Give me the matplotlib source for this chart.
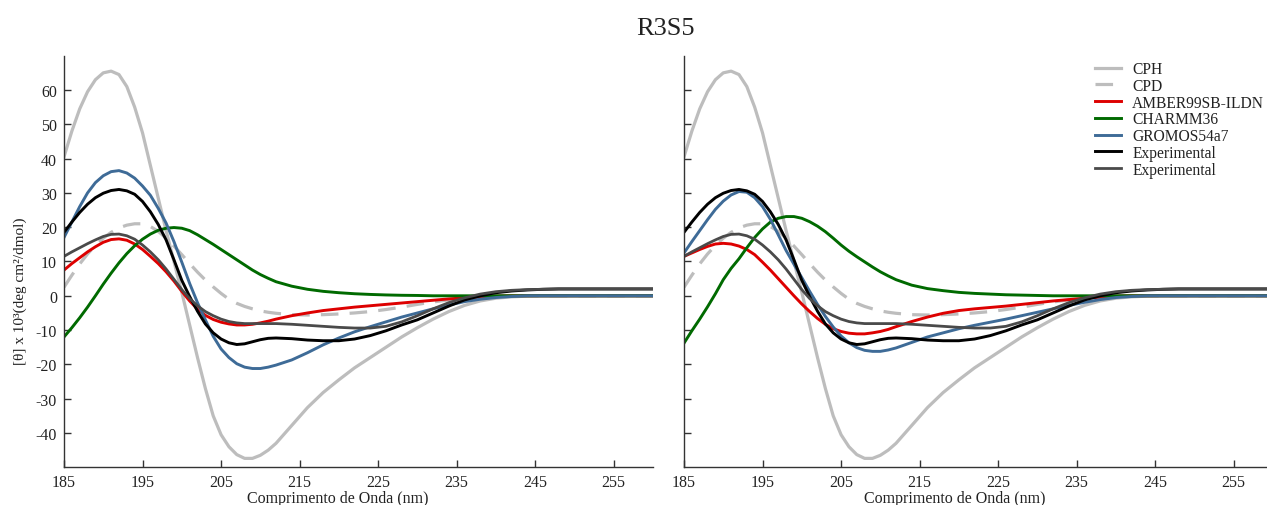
import numpy as np
import matplotlib
matplotlib.use("Agg")
import matplotlib.pyplot as plt

plt.rcParams['font.family'] = ['Liberation Serif', 'DejaVu Serif']
plt.rcParams['axes.unicode_minus'] = False

# Wavelength grid (nm)
wavelength = list(range(185, 213)) + list(range(214, 251, 2)) + [255, 260]

# Reference curves (same in both panels)
cph = [40.5, 48, 54.5, 59.5, 63, 65, 65.5, 64.5, 61, 55, 47.5, 38, 28.5, 19, 10, 1, -8.5, -18, -27, -35,
       -40.5, -44, -46.3, -47.4, -47.4, -46.5, -45, -43,
       -37.8, -32.6, -28.2, -24.5, -21, -18, -15, -12, -9.3, -6.8, -4.6, -2.8, -1.5, -0.7, -0.3, -0.1, 0, 0, 0,
       0, 0]
cpd = [2.5, 6, 9.3, 12.2, 14.7, 16.8, 18.5, 19.8, 20.6, 21, 21, 20.2, 18.8, 16.8, 14.5, 12, 9.4, 6.9, 4.6, 2.6,
       0.7, -1, -2.2, -3.1, -3.8, -4.4, -4.8, -5.1,
       -5.5, -5.6, -5.5, -5.3, -5.0, -4.6, -4.0, -3.3, -2.5, -1.8, -1.2, -0.7, -0.3, -0.1, 0, 0, 0, 0, 0,
       0, 0]
exp1 = [18.5, 21.5, 24.3, 26.7, 28.6, 29.9, 30.7, 31, 30.6, 29.6, 27.5, 24.5, 20.8, 16.3, 10.5, 4.5, -0.2, -4.5,
        -8.2, -10.8, -12.6, -13.7, -14.2, -14, -13.4, -12.8, -12.4, -12.3,
        -12.5, -12.9, -13.1, -13.1, -12.6, -11.6, -10.2, -8.5, -7, -5, -3, -1.2, 0, 0.9, 1.4, 1.7, 1.9, 2, 2,
        2, 2]
exp2 = [11.5, 12.8, 14, 15.2, 16.3, 17.3, 17.9, 18, 17.5, 16.5, 14.8, 12.8, 10.5, 7.8, 4.8, 1.8, -0.8, -2.9,
        -4.6, -5.8, -6.8, -7.5, -7.9, -8.1, -8.1, -8.1, -8.1, -8.1,
        -8.3, -8.6, -8.9, -9.2, -9.4, -9.4, -8.9, -7.6, -5.8, -3.8, -2, -0.6, 0.5, 1.2, 1.6, 1.8, 1.9, 2, 2,
        2, 2]

# Left panel simulations
amber_l = [7.5, 9.4, 11.1, 12.8, 14.3, 15.6, 16.4, 16.6, 16.2, 15.1, 13.5, 11.5, 9.4, 7, 4.3, 1.3, -1.5, -3.9,
           -5.7, -6.9, -7.7, -8.2, -8.5, -8.5, -8.3, -7.9, -7.4, -6.8,
           -5.8, -5.0, -4.3, -3.8, -3.3, -2.9, -2.5, -2.1, -1.7, -1.3, -0.9, -0.6, -0.3, -0.1, 0, 0, 0, 0, 0,
           0, 0]
charmm_l = [-12, -9.3, -6.4, -3.3, 0, 3.4, 6.6, 9.6, 12.3, 14.6, 16.5, 18, 19.1, 19.7, 19.9, 19.7, 19.0, 17.8,
            16.4, 15.0, 13.5, 12.0, 10.5, 9.0, 7.5, 6.2, 5.1, 4.1,
            2.8, 1.9, 1.3, 0.9, 0.6, 0.4, 0.25, 0.15, 0.1, 0, 0, 0, 0, 0, 0, 0, 0, 0, 0,
            0, 0]
gromos_l = [17, 21.5, 26, 30, 33, 35, 36.2, 36.5, 35.8, 34.3, 32, 29.3, 25.5, 21.2, 15.8, 9.8, 3.6, -2, -7,
            -11.8, -15.5, -18, -19.8, -20.8, -21.2, -21.2, -20.8, -20.2,
            -18.7, -16.6, -14.3, -12.3, -10.5, -9, -7.6, -6.2, -5, -3.8, -2.7, -1.7, -1.0, -0.5, -0.2, 0, 0, 0, 0,
            0, 0]

# Right panel simulations
amber_r = [11.5, 12.5, 13.5, 14.4, 15.1, 15.3, 15.1, 14.5, 13.5, 12, 9.8, 7.5, 5, 2.5, 0, -2.4, -4.6, -6.6,
           -8.3, -9.6, -10.4, -10.9, -11.1, -11.1, -10.8, -10.4, -9.8, -9.0,
           -7.5, -6.2, -5.1, -4.3, -3.8, -3.4, -3.0, -2.5, -2.0, -1.5, -1.1, -0.7, -0.4, -0.1, 0, 0, 0, 0, 0,
           0, 0]
charmm_r = [-13.8, -10.2, -6.8, -3.2, 0.6, 4.7, 8, 10.8, 14, 17, 19.5, 21.5, 22.6, 23.1, 23.1, 22.6, 21.6, 20.3,
            18.7, 16.8, 14.8, 13, 11.4, 9.9, 8.4, 7, 5.8, 4.7,
            3.1, 2.1, 1.5, 1.0, 0.7, 0.5, 0.3, 0.2, 0.1, 0, 0, 0, 0, 0, 0, 0, 0, 0, 0,
            0, 0]
gromos_r = [12.5, 15.8, 19, 22.2, 25.2, 27.6, 29.4, 30.4, 30.2, 28.6, 26, 22.3, 17.8, 13.2, 9.2, 5.3, 1.3, -2.5,
            -6, -9.1, -11.7, -13.7, -15.1, -15.9, -16.2, -16.2, -15.8, -15.2,
            -13.6, -12, -10.8, -9.6, -8.6, -7.7, -6.8, -5.8, -4.8, -3.8, -2.8, -1.9, -1.1, -0.5, -0.2, 0, 0, 0, 0,
            0, 0]

labels = ["CPH", "CPD", "AMBER99SB-ILDN", "CHARMM36", "GROMOS54a7", "Experimental", "Experimental"]
xticks = [185, 195, 205, 215, 225, 235, 245, 255]
yticks = [-40, -30, -20, -10, 0, 10, 20, 30, 40, 50, 60]

c_cph = '#bdbdbd'
c_red = '#dd0000'
c_green = '#006a00'
c_blue = '#3e6b97'
c_black = '#000000'
c_dgray = '#4a4a4a'

W, H = 1267, 506
fig = plt.figure(figsize=(W / 100, H / 100), dpi=100)

ax1 = fig.add_axes([64 / W, 1 - 468.3 / H, 589 / W, 411.6 / H])
ax2 = fig.add_axes([684 / W, 1 - 468.3 / H, 589 / W, 411.6 / H])

panels = [(ax1, amber_l, charmm_l, gromos_l), (ax2, amber_r, charmm_r, gromos_r)]
x = np.array(wavelength)
for ax, amb, cha, gro in panels:
    ax.plot(x, cph, color=c_cph, lw=2.3, label=labels[0])
    ax.plot(x, cpd, color=c_cph, lw=2.3, ls=(0, (5.5, 3.5)), label=labels[1])
    ax.plot(x, amb, color=c_red, lw=2.1, label=labels[2])
    ax.plot(x, cha, color=c_green, lw=2.1, label=labels[3])
    ax.plot(x, gro, color=c_blue, lw=2.1, label=labels[4])
    ax.plot(x, exp1, color=c_black, lw=2.1, label=labels[5])
    ax.plot(x, exp2, color=c_dgray, lw=2.0, label=labels[6])
    ax.set_xlim(185, 260)
    ax.set_ylim(-50, 70)
    ax.set_xticks(xticks)
    ax.set_yticks(yticks)
    for s in ['top', 'right']:
        ax.spines[s].set_visible(False)
    for s in ['left', 'bottom']:
        ax.spines[s].set_color('#333333')
        ax.spines[s].set_linewidth(1.0)
    ax.tick_params(direction='in', length=5, width=1, color='#333333', labelsize=11.5,
                   labelcolor='#222222', pad=5)
    ax.set_xlabel("Comprimento de Onda (nm)", fontsize=11.5, color='#222222')

ax1.xaxis.set_label_coords(0.464, -0.054)
ax2.xaxis.set_label_coords(0.460, -0.054)
ax2.tick_params(axis='y', labelleft=False)
ax1.set_ylabel("[θ] x 10³(deg cm²/dmol)", fontsize=11, color='#222222')
ax1.yaxis.set_label_coords(-0.063, 0.43)

fig.text(665 / W, 1 - 29 / H, "R3S5", ha='center', va='center', fontsize=19, color='#222222')

leg = ax2.legend(loc='upper left', bbox_to_anchor=(1095 / W, 1 - 62 / H), bbox_transform=fig.transFigure,
                 frameon=False, fontsize=11.2, handlelength=1.65, handletextpad=0.75, labelspacing=0.05,
                 borderpad=0, borderaxespad=0)
for t in leg.get_texts():
    t.set_color('#222222')

fig.savefig("out.png", dpi=100)
